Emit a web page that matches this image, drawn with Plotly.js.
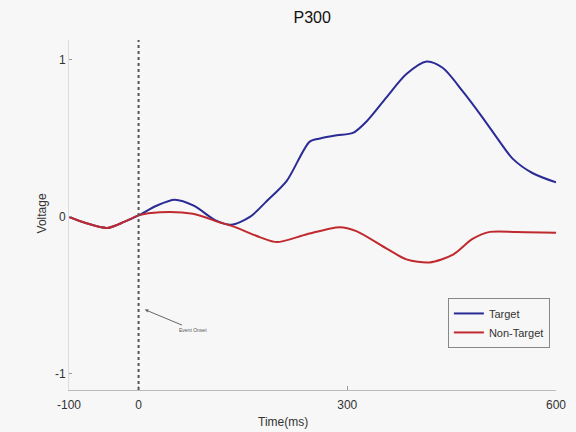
<!DOCTYPE html>
<html>
<head>
<meta charset="utf-8">
<script src="https://cdn.plot.ly/plotly-3.0.1.min.js"></script>
<style>html,body{margin:0;padding:0;background:#f7f7f7;}#chart{width:576px;height:432px;}</style>
</head>
<body>
<div id="chart"></div>
<script>
var targetTime = [-100,-75,-45,-20,0,25,52,80,110,133,160,184,213,246,261,285,308,328,356,385,414,437,466,495,519,538,566,600];
var targetVolt = [0.0,-0.04,-0.07,-0.03,0.01,0.07,0.11,0.07,-0.02,-0.05,0.0,0.10,0.23,0.48,0.50,0.52,0.535,0.61,0.76,0.91,0.99,0.95,0.80,0.63,0.48,0.37,0.28,0.22];
var nonTargetTime = [-100,-75,-45,-20,0,31,78,117,136,175,199,242,289,313,356,385,418,452,480,505,543,600];
var nonTargetVolt = [0.0,-0.04,-0.07,-0.03,0.01,0.03,0.02,-0.035,-0.06,-0.13,-0.16,-0.11,-0.065,-0.09,-0.2,-0.27,-0.29,-0.24,-0.14,-0.095,-0.095,-0.10];
var xTicks = [-100,0,300,600];
var yTicks = [-1,0,1];

var traces = [
  {x: targetTime, y: targetVolt, name: 'Target', mode: 'lines',
   line: {color: '#2b2b96', width: 2, shape: 'spline', smoothing: 0.8}},
  {x: nonTargetTime, y: nonTargetVolt, name: 'Non-Target', mode: 'lines',
   line: {color: '#c02a2e', width: 2, shape: 'spline', smoothing: 0.8}}
];

var layout = {
  width: 576, height: 432,
  margin: {l: 69, r: 20, t: 40, b: 42},
  paper_bgcolor: '#f7f7f7', plot_bgcolor: '#f7f7f7',
  font: {family: 'Liberation Sans, Arial, sans-serif', color: '#333', size: 12},
  title: {text: 'P300', x: 0.542, xanchor: 'center', y: 0.96, yanchor: 'middle',
          font: {size: 16, color: '#111'}},
  showlegend: true,
  legend: {x: 0.778, y: 0.263, xanchor: 'left', yanchor: 'top',
           bgcolor: '#f7f7f7', bordercolor: '#888', borderwidth: 1,
           font: {size: 11, color: '#333'},
           itemwidth: 30, tracegroupgap: 0},
  xaxis: {range: [-100, 600], tickvals: xTicks, ticktext: xTicks.map(String),
          showgrid: false, zeroline: false, showline: true, linecolor: '#bbb', linewidth: 1,
          ticks: 'inside', ticklen: 4, tickcolor: '#999', ticklabelstandoff: 4, fixedrange: true},
  yaxis: {range: [-1.102, 1.127], tickvals: yTicks, ticktext: yTicks.map(String),
          showgrid: false, zeroline: false, showline: true, linecolor: '#ddd', linewidth: 1,
          ticks: 'inside', ticklen: 3, tickcolor: '#999', fixedrange: true},
  shapes: [
    {type: 'line', xref: 'x', yref: 'paper', x0: 0, x1: 0, y0: 0, y1: 1,
     line: {color: '#555', width: 2, dash: 'dot'}}
  ],
  annotations: [
    {xref: 'paper', yref: 'paper', x: 0.44, y: -0.066, xanchor: 'center', yanchor: 'top',
     text: 'Time(ms)', showarrow: false, font: {size: 12, color: '#333'}},
    {xref: 'paper', yref: 'paper', x: -0.055, y: 0.505, xanchor: 'center', yanchor: 'middle',
     text: 'Voltage', textangle: -90, showarrow: false, font: {size: 12, color: '#333'}},
    {xref: 'x', yref: 'y', x: 9, y: -0.59, ax: 48, ay: 20, text: 'Event Onset',
     showarrow: true, arrowhead: 2, arrowsize: 0.7, arrowwidth: 1, arrowcolor: '#666',
     font: {size: 5, color: '#555'}}
  ]
};

Plotly.newPlot('chart', traces, layout, {displayModeBar: false, staticPlot: true});
</script>
</body>
</html>
